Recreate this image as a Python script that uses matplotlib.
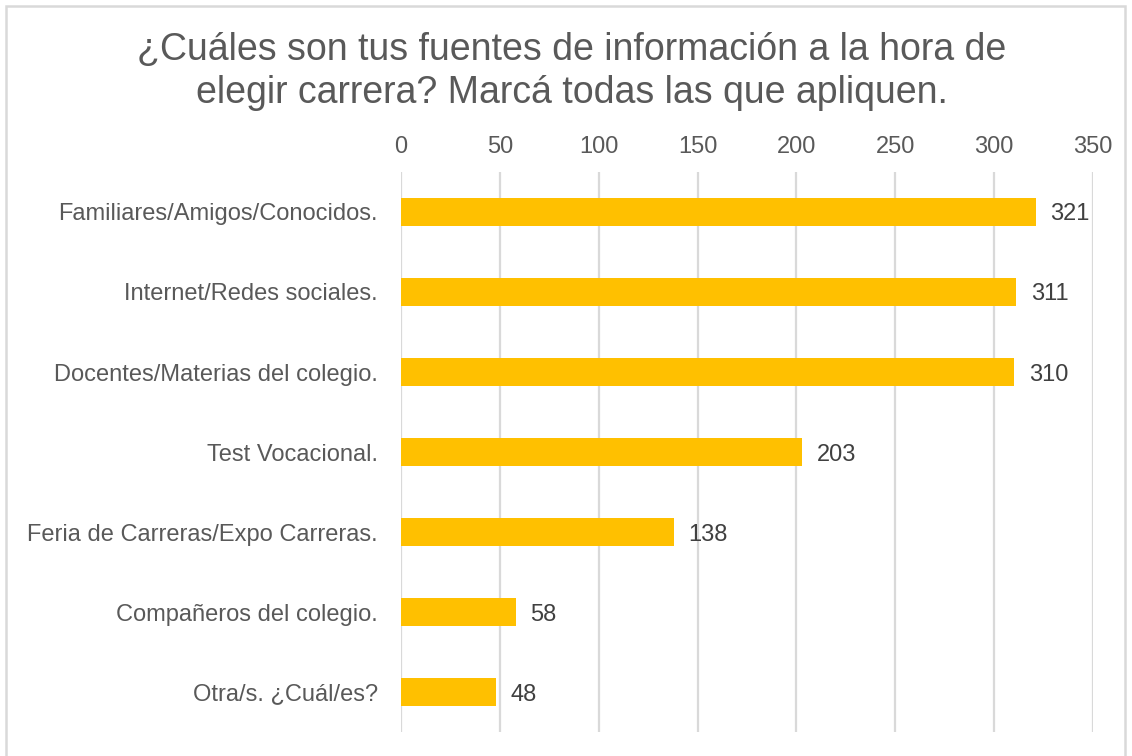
import matplotlib.pyplot as plt
from matplotlib.patches import Rectangle

# Datos de la encuesta
categorias = ['Familiares/Amigos/Conocidos.', 'Internet/Redes sociales.', 'Docentes/Materias del colegio.',
              'Test Vocacional.', 'Feria de Carreras/Expo Carreras.', 'Compañeros del colegio.',
              'Otra/s. ¿Cuál/es?']
valores = [321, 311, 310, 203, 138, 58, 48]
ticks_x = [0, 50, 100, 150, 200, 250, 300, 350]

plt.rcParams['font.family'] = ['Liberation Sans', 'DejaVu Sans']
gris = '#595959'

fig = plt.figure(figsize=(11.32, 7.56), dpi=100)
ax = fig.add_axes([0.3542, 0.0317, 0.6114, 0.7408])

y = range(len(categorias))
ax.barh(y, valores, height=0.36, color='#FFC000', zorder=3)
for i, v in enumerate(valores):
    ax.text(v + 7.5, i, str(v), va='center_baseline', ha='left', fontsize=17, color='#404040')

ax.set_xlim(0, 350)
ax.set_ylim(len(categorias) - 0.5, -0.5)
ax.set_xticks(ticks_x)
ax.set_yticks(list(y))
ax.set_yticklabels(categorias)
ax.xaxis.tick_top()
ax.tick_params(axis='x', length=0, pad=10, labelsize=17, labelcolor=gris)
ax.tick_params(axis='y', length=0, pad=16.5, labelsize=17, labelcolor=gris)
ax.grid(axis='x', color='#D9D9D9', linewidth=1.6, zorder=0)
for s in ax.spines.values():
    s.set_visible(False)

fig.text(0.505, 0.906, '¿Cuáles son tus fuentes de información a la hora de\nelegir carrera? Marcá todas las que apliquen.',
         ha='center', va='center', fontsize=27, color=gris, linespacing=1.25)

# borde del gráfico
fig.patches.append(Rectangle((6 / 1132, -0.05), 1119 / 1132, 1.05 - 6 / 756, transform=fig.transFigure,
                             fill=False, edgecolor='#D9D9D9', linewidth=1.8))

fig.savefig('out.png', dpi=100)
